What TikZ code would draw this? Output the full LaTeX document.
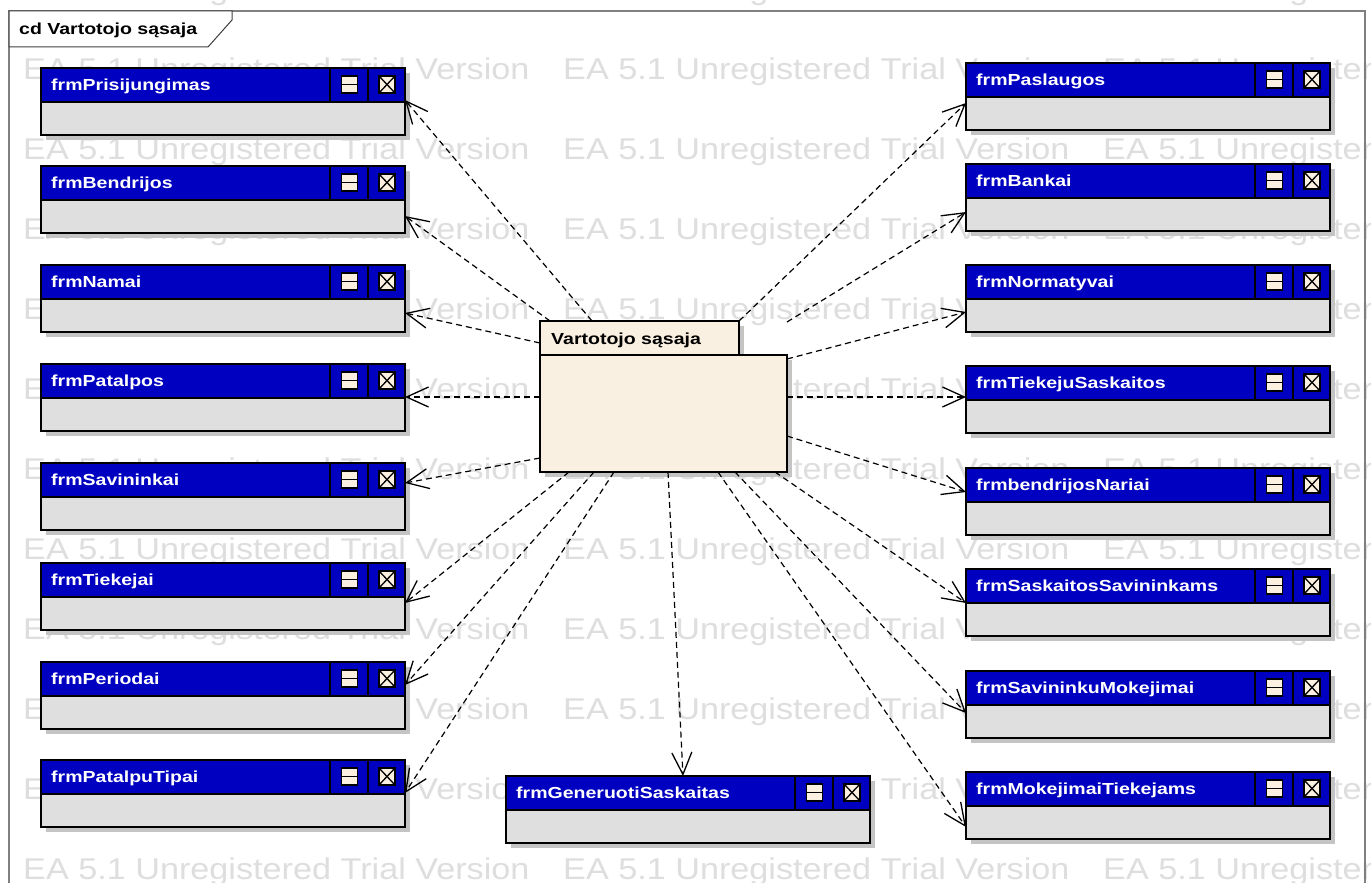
\documentclass[tikz,border=0pt]{standalone}
\usepackage{fontspec}
\setmainfont{Liberation Sans}
\newfontfamily\lblfont{Liberation Sans}[FakeStretch=1.22]
\newfontfamily\wmfont{Liberation Sans}[FakeStretch=1.14]
\usetikzlibrary{arrows.meta,calc}

\definecolor{hdrblue}{RGB}{0,0,192}
\definecolor{bodygray}{RGB}{223,223,223}
\definecolor{pkgcream}{RGB}{250,240,225}
\definecolor{iconfill}{RGB}{252,240,224}
\definecolor{shadowgray}{RGB}{196,196,196}
\definecolor{wmgray}{RGB}{222,222,222}
\definecolor{framegray}{RGB}{128,128,128}

\tikzset{
  boxbody/.style={rectangle, draw=black, line width=1.6pt, fill=bodygray,
    minimum width=364pt, minimum height=67pt, inner sep=0pt, outer sep=0pt},
  boxhead/.style={rectangle, draw=black, line width=1.6pt, fill=hdrblue,
    minimum width=364pt, minimum height=34pt, inner sep=0pt, outer sep=0pt},
  divline/.style={draw=black, line width=1.6pt},
  iconbox/.style={rectangle, draw=black, line width=1.5pt, fill=iconfill,
    minimum width=16pt, minimum height=17pt, inner sep=0pt, outer sep=0pt},
  iconline/.style={draw=black, line width=1.3pt},
  hdrtext/.style={text=white, font=\lblfont\bfseries\fontsize{16}{18}\selectfont,
    inner sep=0pt, anchor=base west},
  lbltext/.style={text=black, font=\lblfont\bfseries\fontsize{16}{18}\selectfont,
    inner sep=0pt, anchor=base west},
  wmtext/.style={text=wmgray, font=\wmfont\fontsize{30}{34}\selectfont,
    inner sep=0pt, anchor=base west},
  pkgpart/.style={rectangle, draw=black, line width=1.6pt, fill=pkgcream,
    inner sep=0pt, outer sep=0pt},
  conn/.style={draw=black, line width=1.2pt, dash pattern=on 6pt off 4pt,
    -{Straight Barb[length=22pt,width=20pt,line width=1.3pt]}},
}

% form class box: name, left x, top y, caption
\newcommand\formbox[4]{%
  \fill[shadowgray] (#2+5,#3+5) rectangle (#2+369,#3+72);
  \node[boxbody, anchor=north west] (#1) at (#2,#3) {};
  \node[boxhead, anchor=north west] (#1-head) at (#2,#3) {};
  \draw[divline] (#2+289,#3) -- (#2+289,#3+34) (#2+327,#3) -- (#2+327,#3+34);
  \node[iconbox] (#1-min) at (#2+308.5,#3+16.5) {};
  \draw[iconline] (#1-min.west) -- (#1-min.east);
  \node[iconbox] (#1-cls) at (#2+346,#3+16.5) {};
  \draw[iconline] (#1-cls.north west) -- (#1-cls.south east)
                  (#1-cls.north east) -- (#1-cls.south west);
  \node[hdrtext] (#1-name) at (#2+10,#3+22) {#4};
}

\begin{document}
\begin{tikzpicture}[x=1pt,y=-1pt]
\useasboundingbox (0,0) rectangle (1371,883);
\fill[white] (0,0) rectangle (1371,883);

% background trial-version watermark
\begin{scope}
  \clip (0,0) rectangle (1371,883);
  \foreach \r in {0,...,11}{
    \foreach \c in {0,1,2}{
      \node[wmtext] (wm-\r-\c) at (23+540*\c, -0.5+80*\r) {EA 5.1 Unregistered Trial Version};
    }
  }
\end{scope}

% diagram frame and its title tab
\draw[framegray, line width=1.5pt] (9,883) -- (9,11) -- (1365,11) -- (1365,883);
\filldraw[fill=white, draw=black!75, line width=1pt]
  (9,11) -- (232,11) -- (232,20) -- (208,47) -- (9,47) -- cycle;
\node[lbltext] (frame-name) at (19,35) {cd Vartotojo sąsaja};

% left column of forms
\formbox{prisijungimas}{41}{68}{frmPrisijungimas}
\formbox{bendrijos}{41}{166}{frmBendrijos}
\formbox{namai}{41}{265}{frmNamai}
\formbox{patalpos}{41}{364}{frmPatalpos}
\formbox{savininkai}{41}{463}{frmSavininkai}
\formbox{tiekejai}{41}{563}{frmTiekejai}
\formbox{periodai}{41}{662}{frmPeriodai}
\formbox{patalputipai}{41}{760}{frmPatalpuTipai}

% bottom centre form
\formbox{generuoti}{506}{776}{frmGeneruotiSaskaitas}

% right column of forms
\formbox{paslaugos}{966}{63}{frmPaslaugos}
\formbox{bankai}{966}{164}{frmBankai}
\formbox{normatyvai}{966}{265}{frmNormatyvai}
\formbox{tiekejusaskaitos}{966}{366}{frmTiekejuSaskaitos}
\formbox{bendrijosnariai}{966}{468}{frmbendrijosNariai}
\formbox{saskaitossav}{966}{569}{frmSaskaitosSavininkams}
\formbox{savmokejimai}{966}{671}{frmSavininkuMokejimai}
\formbox{mokejimaitiek}{966}{772}{frmMokejimaiTiekejams}

% package in the middle
\fill[shadowgray] (545,326) rectangle (744,360);
\fill[shadowgray] (545,360) rectangle (792,477);
\node[pkgpart, anchor=north west, minimum width=247pt, minimum height=117pt] (pkg) at (540,355) {};
\node[pkgpart, anchor=north west, minimum width=199pt, minimum height=34pt] (pkgtab) at (540,321) {};
\node[lbltext] (pkg-name) at (551,344) {Vartotojo sąsaja};

% dependencies from the package to the forms
\draw[conn] ($(pkgtab.north west)+(52,0)$) -- ($(prisijungimas.north east)+(0,32)$);
\draw[conn] ($(pkgtab.north west)+(10,0)$) -- ($(bendrijos.north east)+(0,50)$);
\draw[conn] ($(pkgtab.north west)+(0,22)$) -- ($(namai.north east)+(0,48)$);
\draw[conn] ($(pkg.north west)+(0,42)$) -- ($(patalpos.north east)+(0,33)$);
\draw[conn] ($(pkg.north west)+(0,103)$) -- ($(savininkai.north east)+(0,20)$);
\draw[conn] ($(pkg.south west)+(29,0)$) -- ($(tiekejai.north east)+(0,40)$);
\draw[conn] ($(pkg.south west)+(54,0)$) -- ($(periodai.north east)+(0,23)$);
\draw[conn] ($(pkg.south west)+(74,0)$) -- ($(patalputipai.north east)+(0,33)$);
\draw[conn] ($(pkg.south west)+(128,0)$) -- ($(generuoti.north west)+(177,0)$);

\draw[conn] (pkgtab.north east) -- ($(paslaugos.north west)+(0,40)$);
\draw[conn] ($(pkg.north east)+(0,-33)$) -- ($(bankai.north west)+(0,48)$);
\draw[conn] ($(pkg.north east)+(0,4)$) -- ($(normatyvai.north west)+(0,47)$);
\draw[conn] ($(pkg.north east)+(0,42)$) -- ($(tiekejusaskaitos.north west)+(0,31)$);
\draw[conn] ($(pkg.north east)+(0,81)$) -- ($(bendrijosnariai.north west)+(0,24)$);
\draw[conn] ($(pkg.south west)+(235,0)$) -- ($(saskaitossav.north west)+(0,34)$);
\draw[conn] ($(pkg.south west)+(195,0)$) -- ($(savmokejimai.north west)+(0,42)$);
\draw[conn] ($(pkg.south west)+(178,0)$) -- ($(mokejimaitiek.north west)+(0,55)$);
\end{tikzpicture}
\end{document}
